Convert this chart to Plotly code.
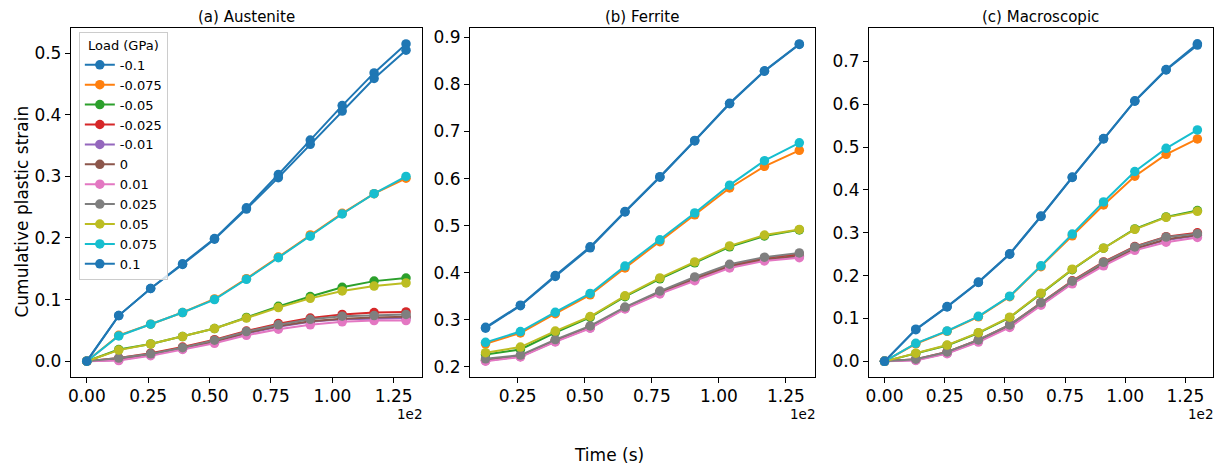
import plotly.graph_objects as go

# ---------------- data ----------------
loads = ["-0.1", "-0.075", "-0.05", "-0.025", "-0.01", "0", "0.01", "0.025", "0.05", "0.075", "0.1"]
colors = ["#1f77b4", "#ff7f0e", "#2ca02c", "#d62728", "#9467bd", "#8c564b",
          "#e377c2", "#7f7f7f", "#bcbd22", "#17becf", "#1f77b4"]

time_full = [0, 13, 26, 39, 52, 65, 78, 91, 104, 117, 130]
time_ferrite = [13, 26, 39, 52, 65, 78, 91, 104, 117, 130]

x_tick_vals = [0, 25, 50, 75, 100, 125]
x_tick_text = ["0.00", "0.25", "0.50", "0.75", "1.00", "1.25"]

austenite = {
    "-0.1":   [0, 0.074, 0.118, 0.158, 0.199, 0.249, 0.303, 0.359, 0.415, 0.468, 0.515],
    "-0.075": [0, 0.042, 0.060, 0.079, 0.101, 0.134, 0.169, 0.205, 0.240, 0.272, 0.297],
    "-0.05":  [0, 0.019, 0.028, 0.040, 0.053, 0.071, 0.089, 0.105, 0.120, 0.130, 0.135],
    "-0.025": [0, 0.005, 0.013, 0.023, 0.035, 0.049, 0.061, 0.070, 0.076, 0.079, 0.080],
    "-0.01":  [0, 0.002, 0.010, 0.020, 0.031, 0.045, 0.056, 0.064, 0.068, 0.069, 0.070],
    "0":      [0, 0.003, 0.011, 0.021, 0.032, 0.046, 0.057, 0.065, 0.069, 0.071, 0.072],
    "0.01":   [0, 0.001, 0.009, 0.019, 0.029, 0.042, 0.052, 0.059, 0.064, 0.066, 0.066],
    "0.025":  [0, 0.005, 0.012, 0.022, 0.034, 0.048, 0.059, 0.068, 0.073, 0.074, 0.076],
    "0.05":   [0, 0.018, 0.028, 0.040, 0.053, 0.070, 0.087, 0.102, 0.114, 0.122, 0.127],
    "0.075":  [0, 0.041, 0.060, 0.079, 0.100, 0.133, 0.168, 0.203, 0.239, 0.272, 0.300],
    "0.1":    [0, 0.074, 0.118, 0.157, 0.198, 0.247, 0.298, 0.352, 0.406, 0.459, 0.505],
}

ferrite = {
    "-0.1":   [0.284, 0.331, 0.394, 0.455, 0.530, 0.604, 0.681, 0.760, 0.829, 0.886],
    "-0.075": [0.249, 0.272, 0.313, 0.353, 0.410, 0.466, 0.523, 0.580, 0.626, 0.660],
    "-0.05":  [0.226, 0.237, 0.273, 0.305, 0.349, 0.387, 0.421, 0.455, 0.478, 0.491],
    "-0.025": [0.215, 0.223, 0.256, 0.285, 0.325, 0.359, 0.388, 0.415, 0.431, 0.439],
    "-0.01":  [0.213, 0.222, 0.254, 0.283, 0.324, 0.357, 0.385, 0.412, 0.427, 0.435],
    "0":      [0.214, 0.222, 0.255, 0.284, 0.325, 0.358, 0.386, 0.413, 0.428, 0.436],
    "0.01":   [0.212, 0.221, 0.253, 0.282, 0.323, 0.355, 0.383, 0.410, 0.425, 0.432],
    "0.025":  [0.217, 0.225, 0.258, 0.287, 0.327, 0.361, 0.391, 0.418, 0.433, 0.442],
    "0.05":   [0.230, 0.242, 0.276, 0.307, 0.351, 0.389, 0.423, 0.457, 0.480, 0.492],
    "0.075":  [0.252, 0.275, 0.316, 0.356, 0.414, 0.470, 0.527, 0.586, 0.638, 0.676],
    "0.1":    [0.282, 0.330, 0.392, 0.453, 0.529, 0.603, 0.680, 0.759, 0.828, 0.885],
}

macroscopic = {
    "-0.1":   [0, 0.075, 0.128, 0.185, 0.251, 0.339, 0.430, 0.520, 0.608, 0.681, 0.741],
    "-0.075": [0, 0.041, 0.070, 0.104, 0.151, 0.221, 0.293, 0.365, 0.432, 0.483, 0.519],
    "-0.05":  [0, 0.018, 0.037, 0.066, 0.102, 0.158, 0.214, 0.264, 0.309, 0.337, 0.352],
    "-0.025": [0, 0.005, 0.022, 0.050, 0.085, 0.137, 0.188, 0.232, 0.268, 0.291, 0.300],
    "-0.01":  [0, 0.003, 0.019, 0.047, 0.081, 0.133, 0.183, 0.226, 0.262, 0.283, 0.293],
    "0":      [0, 0.004, 0.020, 0.048, 0.082, 0.134, 0.184, 0.227, 0.263, 0.285, 0.295],
    "0.01":   [0, 0.002, 0.018, 0.045, 0.079, 0.131, 0.181, 0.223, 0.259, 0.278, 0.289],
    "0.025":  [0, 0.005, 0.022, 0.050, 0.085, 0.137, 0.187, 0.231, 0.267, 0.290, 0.298],
    "0.05":   [0, 0.019, 0.038, 0.067, 0.103, 0.159, 0.215, 0.264, 0.308, 0.336, 0.350],
    "0.075":  [0, 0.042, 0.071, 0.105, 0.152, 0.223, 0.297, 0.372, 0.443, 0.497, 0.540],
    "0.1":    [0, 0.074, 0.127, 0.184, 0.250, 0.338, 0.429, 0.519, 0.607, 0.680, 0.738],
}

titles = ["(a) Austenite", "(b) Ferrite", "(c) Macroscopic"]

# ---------------- figure ----------------
OFF = 8  # page body margin
W, H = 1226 - OFF, 471 - OFF
FONT = "DejaVu Sans"
fig = go.Figure()

panels = [
    (austenite, time_full, "x", "y"),
    (ferrite, time_ferrite, "x2", "y2"),
    (macroscopic, time_full, "x3", "y3"),
]

for pi, (data, tt, xa, ya) in enumerate(panels):
    for li, load in enumerate(loads):
        fig.add_trace(go.Scatter(
            x=tt, y=data[load], mode="lines+markers", name=load,
            line=dict(color=colors[li], width=2),
            marker=dict(color=colors[li], size=9.5),
            xaxis=xa, yaxis=ya, showlegend=(pi == 0), legendgroup=load,
        ))

px_x = lambda p: (p - OFF) / W
px_y = lambda p: 1 - (p - OFF) / H

x_domains = [(68, 420), (468, 814), (868, 1213)]
y_dom = [px_y(377), px_y(27)]
x_ranges = [[-6.5, 136.5], [7.15, 135.85], [-6.5, 136.5]]
y_ranges = [[-0.026, 0.541], [0.178, 0.920], [-0.037, 0.778]]

axis_common = dict(
    showline=True, mirror=True, linecolor="black", linewidth=1,
    ticks="outside", ticklen=5, tickwidth=1, tickcolor="black",
    showgrid=False, zeroline=False,
    tickfont=dict(family=FONT, size=17, color="black"),
)

layout = {}
for i in range(3):
    sfx = "" if i == 0 else str(i + 1)
    layout["xaxis" + sfx] = dict(
        axis_common, domain=[px_x(x_domains[i][0]), px_x(x_domains[i][1])],
        range=x_ranges[i], tickvals=x_tick_vals, ticktext=x_tick_text,
        anchor="y" + sfx, ticklabelstandoff=-2,
    )
    layout["yaxis" + sfx] = dict(
        axis_common, domain=y_dom, range=y_ranges[i], dtick=0.1, tickformat=".1f",
        anchor="x" + sfx,
    )

fig.update_layout(**layout)

annotations = []
for i in range(3):
    x0, x1 = x_domains[i]
    annotations.append(dict(
        text=titles[i], x=px_x((x0 + x1) / 2), y=px_y(16), xref="paper", yref="paper",
        showarrow=False, font=dict(family=FONT, size=15, color="black"),
        xanchor="center", yanchor="middle",
    ))
    annotations.append(dict(
        text="1e2", x=px_x(x1 + 2), y=px_y(414), xref="paper", yref="paper",
        showarrow=False, font=dict(family=FONT, size=13.5, color="black"),
        xanchor="right", yanchor="middle",
    ))
annotations.append(dict(
    text="Time (s)", x=px_x(607), y=px_y(455), xref="paper", yref="paper",
    showarrow=False, font=dict(family=FONT, size=17, color="black"),
    xanchor="center", yanchor="middle",
))
annotations.append(dict(
    text="Cumulative plastic strain", x=px_x(19), y=px_y(211), xref="paper", yref="paper",
    showarrow=False, font=dict(family=FONT, size=17, color="black"),
    xanchor="center", yanchor="middle", textangle=-90,
))

fig.update_layout(
    width=W, height=H,
    margin=dict(l=0, r=0, t=0, b=0),
    paper_bgcolor="white", plot_bgcolor="white",
    font=dict(family=FONT, color="black"),
    annotations=annotations,
    legend=dict(
        x=px_x(76), y=px_y(31), xanchor="left", yanchor="top",
        bgcolor="rgba(255,255,255,0.8)", bordercolor="#cccccc", borderwidth=1,
        font=dict(family=FONT, size=13, color="black"),
        title=dict(text="Load (GPa)", side="top center",
                   font=dict(family=FONT, size=13, color="black")),
        tracegroupgap=0, itemwidth=30,
    ),
)

fig.write_html("out.html")
